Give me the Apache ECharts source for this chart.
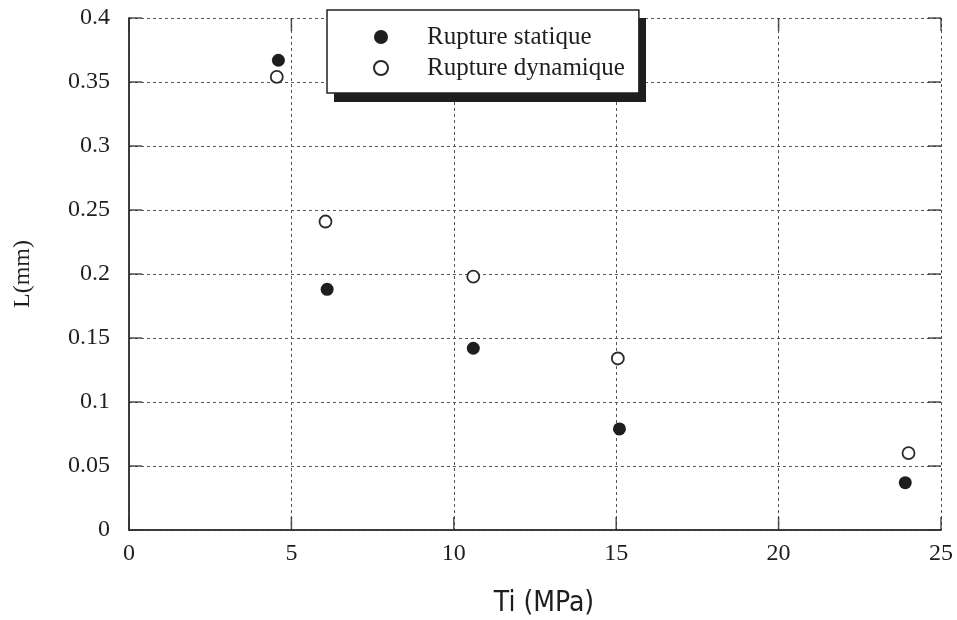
<!DOCTYPE html>
<html>
<head>
<meta charset="utf-8">
<script src="https://cdn.jsdelivr.net/npm/echarts@6/dist/echarts.min.js"></script>
<style>html,body{margin:0;padding:0;background:#fff;}#c{width:957px;height:620px;}</style>
</head>
<body>
<div id="c"></div>
<script>
const seriesNames = ['Rupture statique', 'Rupture dynamique'];
const staticX = [4.6, 6.1, 10.6, 15.1, 23.9];
const staticY = [0.367, 0.188, 0.142, 0.079, 0.037];
const dynamicX = [4.55, 6.05, 10.6, 15.05, 24.0];
const dynamicY = [0.354, 0.241, 0.198, 0.134, 0.060];
const xTicks = [0, 5, 10, 15, 20, 25];
const yTicks = [0, 0.05, 0.1, 0.15, 0.2, 0.25, 0.3, 0.35, 0.4];
const xName = 'Ti (MPa)';
const yName = 'L(mm)';

const pairs = (xs, ys) => xs.map((x, i) => [x, ys[i]]);
const serif = '"Liberation Serif", "Times New Roman", serif';
const ink = '#1e1e1e';
const xMin = xTicks[0], xMax = xTicks[xTicks.length - 1];
const yMin = yTicks[0], yMax = yTicks[yTicks.length - 1];

const chart = echarts.init(document.getElementById('c'));
const gridStyle = { show: true, lineStyle: { color: '#555', width: 1, type: [3, 3] } };
const axisLine = { show: true, lineStyle: { color: '#333', width: 1.5 } };
const TL = 13; // inner tick length
const tickSeries = (data, size, offset) => ({
  type: 'scatter', symbol: 'rect', symbolSize: size, symbolOffset: offset,
  itemStyle: { color: '#333' }, silent: true, clip: false, z: 3,
  data: data, tooltip: { show: false }
});
chart.setOption({
  animation: false,
  backgroundColor: '#fff',
  grid: { left: 129, right: 16, top: 18, bottom: 90, containLabel: false, outerBoundsMode: 'none' },
  graphic: [{
    type: 'rect', z: 50, silent: true,
    shape: { x: 334, y: 18, width: 312, height: 84 },
    style: { fill: '#1e1e1e' }
  }],
  legend: {
    orient: 'vertical',
    left: 327, top: 10, z: 60,
    padding: [14, 14, 12, 46],
    itemGap: 5,
    itemWidth: 14, itemHeight: 14,
    backgroundColor: '#fff',
    borderColor: '#222', borderWidth: 1.5,
    textStyle: { fontFamily: serif, fontSize: 25, color: ink, lineHeight: 26, padding: [0, 0, 0, 34] },
    data: seriesNames
  },
  xAxis: [{
    type: 'value', min: xMin, max: xMax, interval: 5,
    name: xName, nameLocation: 'middle', nameGap: 60,
    nameTextStyle: { fontFamily: '"DejaVu Sans Condensed", "DejaVu Sans", sans-serif', fontSize: 28, color: ink, padding: [0, 0, 0, 18] },
    axisLine: axisLine,
    axisTick: { show: false },
    axisLabel: { fontFamily: serif, fontSize: 24, color: ink, margin: 12 },
    splitLine: gridStyle
  }, {
    type: 'value', position: 'top', min: xMin, max: xMax, interval: 5,
    axisLine: axisLine, axisTick: { show: false },
    axisLabel: { show: false }, splitLine: { show: false }
  }],
  yAxis: [{
    type: 'value', min: yMin, max: yMax, interval: 0.05,
    name: yName, nameLocation: 'middle', nameGap: 94, nameRotate: 90,
    nameTextStyle: { fontFamily: serif, fontSize: 24, color: ink },
    axisLine: axisLine,
    axisTick: { show: false },
    axisLabel: { fontFamily: serif, fontSize: 24, color: ink, margin: 19, formatter: v => String(+v.toFixed(2)) },
    splitLine: gridStyle
  }, {
    type: 'value', position: 'right', min: yMin, max: yMax, interval: 0.05,
    axisLine: axisLine, axisTick: { show: false },
    axisLabel: { show: false }, splitLine: { show: false }
  }],
  series: [
    tickSeries(yTicks.map(v => [xMin, v]), [TL, 1.6], [TL / 2, 0]),
    tickSeries(yTicks.map(v => [xMax, v]), [TL, 1.6], [-TL / 2, 0]),
    tickSeries(xTicks.map(v => [v, yMin]), [1.6, TL], [0, -TL / 2]),
    tickSeries(xTicks.map(v => [v, yMax]), [1.6, TL], [0, TL / 2]),
  {
    name: seriesNames[0], type: 'scatter', symbol: 'circle', symbolSize: 13,
    itemStyle: { color: '#1e1e1e', opacity: 1 },
    data: pairs(staticX, staticY), z: 5
  }, {
    name: seriesNames[1], type: 'scatter', symbol: 'circle', symbolSize: 12,
    itemStyle: { color: '#fff', borderColor: '#2a2a2a', borderWidth: 1.8, opacity: 1 },
    data: pairs(dynamicX, dynamicY), z: 5
  }]
});
</script>
</body>
</html>
